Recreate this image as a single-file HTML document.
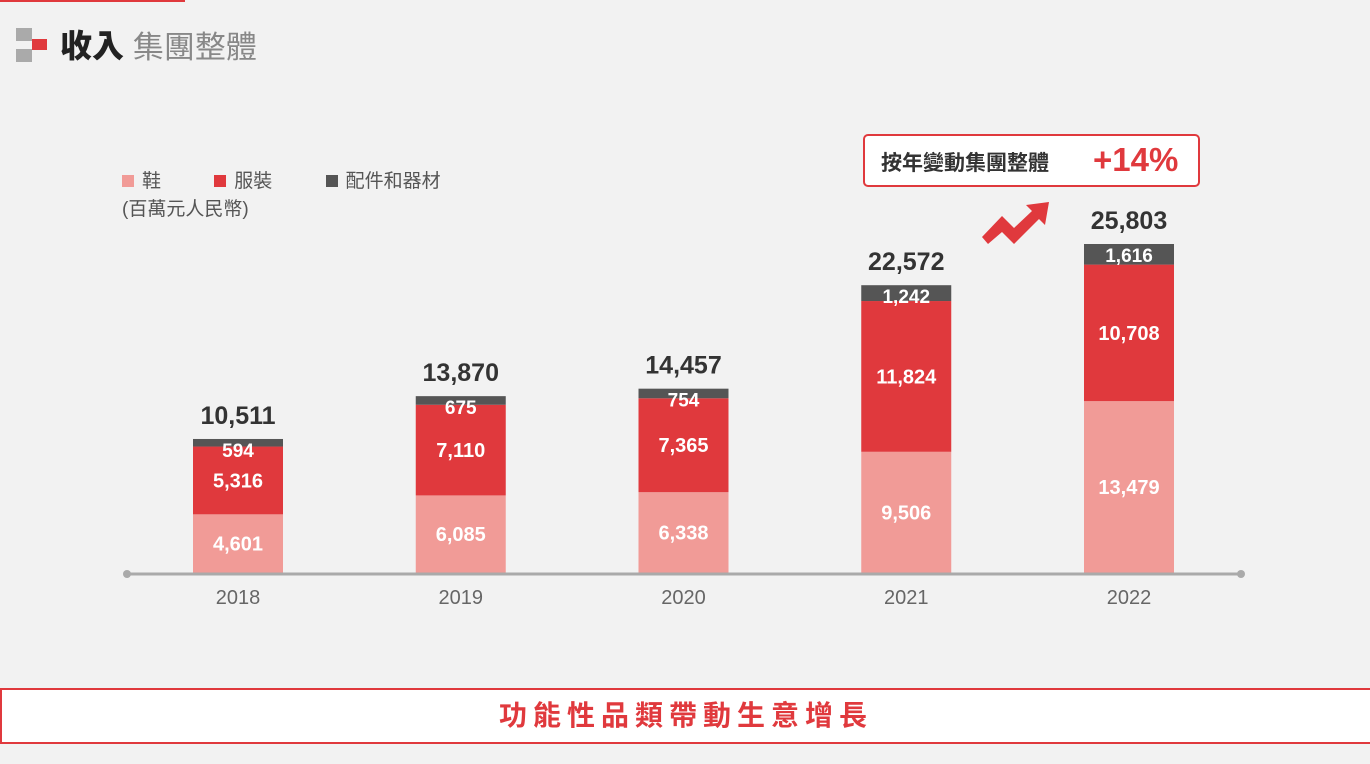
<!DOCTYPE html>
<html><head><meta charset="utf-8"><style>
body{margin:0;width:1370px;height:764px;background:#f2f2f2;overflow:hidden;font-family:"Liberation Sans","Noto Sans CJK TC",sans-serif;position:relative}
.abs{position:absolute}
</style></head><body>
<div class="abs" style="left:0;top:0;width:185px;height:2px;background:#e0393d"></div>
<div class="abs" style="left:16px;top:28px">
<div class="abs" style="left:0;top:0;width:16px;height:13px;background:#aaa"></div>
<div class="abs" style="left:16px;top:11px;width:15px;height:11px;background:#e0393d"></div>
<div class="abs" style="left:0;top:21px;width:16px;height:13px;background:#aaa"></div>
</div>
<div class="abs" style="left:60px;top:26px;font-size:32px;font-weight:900;color:#222;line-height:40px">收入 <span style="font-weight:normal;color:#888;font-size:31px;position:relative;top:1px">集團整體</span></div>

<div class="abs" style="left:122px;top:170px;font-size:19px;color:#555;line-height:24px">
<span><span style="display:inline-block;width:12px;height:12px;background:#f19b97;margin-right:8px"></span>鞋</span>
<span style="margin-left:48px"><span style="display:inline-block;width:12px;height:12px;background:#e0393d;margin-right:8px"></span>服裝</span>
<span style="margin-left:48px"><span style="display:inline-block;width:12px;height:12px;background:#555;margin-right:8px"></span>配件和器材</span>
<div style="margin-top:4px">(百萬元人民幣)</div>
</div>

<div class="abs" style="left:863px;top:134px;width:337px;height:53px;border:2px solid #e0393d;border-radius:5px;background:#fff;box-sizing:border-box">
<span class="abs" style="left:16px;top:11px;font-size:21px;font-weight:bold;color:#333">按年變動集團整體</span>
<span class="abs" style="left:228px;top:5px;font-size:33px;font-weight:bold;color:#e0393d">+14%</span>
</div>

<svg class="abs" style="left:0;top:0" width="1370" height="764">
<polygon points="982,237 1002,216 1014,228 1032,211 1026,205 1049,202 1045,225 1039,219 1014,244 1002,232 988,244" fill="#e0393d"/>
<g id="g"></g>
</svg>

<div class="abs" style="left:0;top:688px;width:1368px;height:52px;border:2px solid #e0393d;background:#fff;text-align:center;line-height:52px;font-size:28px;font-weight:bold;color:#e0393d;letter-spacing:6px">功能性品類帶動生意增長</div>

<script>
const years=["2018","2019","2020","2021","2022"];
const shoes=[4601,6085,6338,9506,13479];
const apparel=[5316,7110,7365,11824,10708];
const accessories=[594,675,754,1242,1616];
const totals=["10,511","13,870","14,457","22,572","25,803"];
const NS="http://www.w3.org/2000/svg";
const g=document.getElementById('g');
const base=573, k=329/25803;
const y=v=>base-v*k;
const xc=i=>238+i*222.75;
const bw=90;
function el(t,a,p){const e=document.createElementNS(NS,t);for(const n in a)e.setAttribute(n,a[n]);(p||g).appendChild(e);return e;}
const fmt=v=>v.toLocaleString('en-US');
years.forEach((yr,i)=>{
  const x=xc(i)-bw/2;
  const segs=[[shoes[i],'#f19b97','shoes'],[apparel[i],'#e0393d','apparel'],[accessories[i],'#555','accessories']];
  let acc=0;
  segs.forEach(([v,c,n])=>{
    const r=el('rect',{x:x,y:y(acc+v),width:bw,height:v*k,fill:c});
    
    
    const small=n==='accessories';
    const ty=small?y(acc+v)+18:y(acc+v/2)+7;
    const t=el('text',{x:xc(i),y:ty,'text-anchor':'middle',fill:'#fff','font-size':small?19:20,'font-weight':'bold'});
    t.textContent=fmt(v);
    
    
    acc+=v;
  });
  const tt=el('text',{x:xc(i),y:y(acc)-15,'text-anchor':'middle',fill:'#333','font-size':25,'font-weight':'bold'});
  tt.textContent=totals[i];
  
  
  const xl=el('text',{x:xc(i),y:604,'text-anchor':'middle',fill:'#666','font-size':20});
  xl.textContent=yr;
  
  
});
const ax=el('line',{x1:127,x2:1241,y1:574,y2:574,stroke:'#aaa','stroke-width':3});


el('circle',{cx:127,cy:574,r:4,fill:'#aaa'});
el('circle',{cx:1241,cy:574,r:4,fill:'#aaa'});
</script>
</body></html>
